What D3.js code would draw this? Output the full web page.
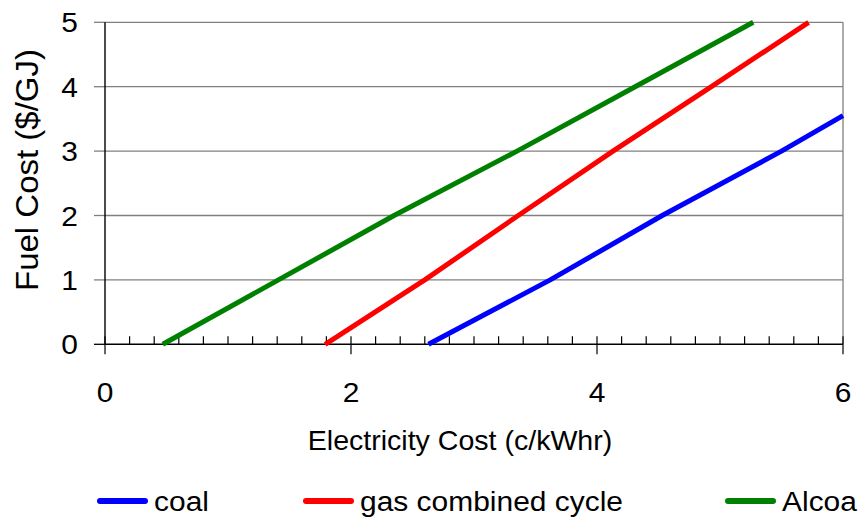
<!DOCTYPE html>
<html>
<head>
<meta charset="utf-8">
<script src="https://cdn.jsdelivr.net/npm/d3@7"></script>
<style>
  html, body { margin: 0; padding: 0; background: #fff; }
  svg text { font-family: "Liberation Sans", Arial, sans-serif; fill: #000; }
</style>
</head>
<body>
<svg id="chart" width="867" height="518"></svg>
<script>
// Electricity cost (c/kWhr) at which each fuel cost ($/GJ) breaks even
const coalElec   = [2.63, 3.62, 4.53, 5.50, 6.00];
const coalFuel   = [0,    1,    2,    3,    3.55];
const gasElec    = [1.79, 2.60, 3.36, 4.13, 4.93, 5.72];
const gasFuel    = [0,    1,    2,    3,    4,    5];
const alcoaElec  = [0.47, 1.41, 2.35, 3.35, 4.31, 5.27];
const alcoaFuel  = [0,    1,    2,    3,    4,    5];

const seriesNames = ["coal", "gas combined cycle", "Alcoa"];
const seriesColors = ["#0000FF", "#FF0000", "#008000"];

const xTickValues = [0, 2, 4, 6];
const yTickValues = [0, 1, 2, 3, 4, 5];
const xTitle = "Electricity Cost (c/kWhr)";
const yTitle = "Fuel Cost ($/GJ)";

const series = [
  { name: seriesNames[0], color: seriesColors[0], pts: d3.zip(coalElec, coalFuel) },
  { name: seriesNames[1], color: seriesColors[1], pts: d3.zip(gasElec, gasFuel) },
  { name: seriesNames[2], color: seriesColors[2], pts: d3.zip(alcoaElec, alcoaFuel) }
];

const svg = d3.select("#chart");
const plotLeft = 105, plotRight = 843, plotTop = 22.3, plotBottom = 344.3;
const x = d3.scaleLinear().domain([0, 6]).range([plotLeft, plotRight]);
const y = d3.scaleLinear().domain([0, 5]).range([plotBottom, plotTop]);
const stretch = 1.07;

// horizontal gridlines
svg.append("g").selectAll("line").data(yTickValues.filter(v => v > 0)).join("line")
  .attr("x1", plotLeft).attr("x2", plotRight)
  .attr("y1", d => y(d)).attr("y2", d => y(d))
  .attr("stroke", "#808080").attr("stroke-width", 1.3);

// right border of plot area
svg.append("line")
  .attr("x1", plotRight).attr("x2", plotRight).attr("y1", plotTop).attr("y2", plotBottom)
  .attr("stroke", "#808080").attr("stroke-width", 1.3);

// x axis: major ticks cross the axis, minor ticks point inward
const xAxis = svg.append("g");
xAxis.selectAll("line.minor").data(d3.range(0, 30).map(i => i * 0.2).filter((v, i) => i % 10 !== 0)).join("line")
  .attr("class", "minor")
  .attr("x1", d => x(d)).attr("x2", d => x(d))
  .attr("y1", plotBottom - 8).attr("y2", plotBottom)
  .attr("stroke", "#000").attr("stroke-width", 1.2);
xAxis.selectAll("line.major").data(xTickValues).join("line")
  .attr("class", "major")
  .attr("x1", d => x(d)).attr("x2", d => x(d))
  .attr("y1", plotBottom - 8).attr("y2", plotBottom + 10)
  .attr("stroke", "#000").attr("stroke-width", 1.2);
xAxis.append("line")
  .attr("x1", plotLeft).attr("x2", plotRight).attr("y1", plotBottom).attr("y2", plotBottom)
  .attr("stroke", "#000").attr("stroke-width", 1.4);
xAxis.selectAll("text").data(xTickValues).join("text")
  .attr("transform", d => `translate(${x(d)},402) scale(${stretch},1)`)
  .attr("text-anchor", "middle")
  .attr("font-size", 28)
  .text(d => d);

// y axis
const yAxis = svg.append("g");
yAxis.selectAll("line").data(yTickValues).join("line")
  .attr("x1", plotLeft - 11).attr("x2", plotLeft)
  .attr("y1", d => y(d)).attr("y2", d => y(d))
  .attr("stroke", d => d === 0 ? "#000" : "#808080").attr("stroke-width", 1.3);
yAxis.append("line")
  .attr("x1", plotLeft).attr("x2", plotLeft).attr("y1", plotTop).attr("y2", plotBottom)
  .attr("stroke", "#000").attr("stroke-width", 1.4);
yAxis.selectAll("text").data(yTickValues).join("text")
  .attr("transform", d => `translate(78,${y(d) + 10}) scale(${stretch},1)`)
  .attr("text-anchor", "end")
  .attr("font-size", 28)
  .text(d => d);

// axis titles
svg.append("text")
  .attr("transform", "translate(460,450) scale(1.02,1)")
  .attr("text-anchor", "middle")
  .attr("font-size", 28)
  .text(xTitle);
svg.append("text")
  .attr("transform", "translate(38,170) rotate(-90) scale(1,0.95)")
  .attr("text-anchor", "middle")
  .attr("font-size", 33)
  .text(yTitle);

// series lines
const line = d3.line().x(d => x(d[0])).y(d => y(d[1]));
svg.append("g").selectAll("path").data(series).join("path")
  .attr("d", d => line(d.pts))
  .attr("fill", "none")
  .attr("stroke", d => d.color)
  .attr("stroke-width", 5)
  .attr("stroke-linejoin", "round");

// legend
const legendX = [97, 303, 725];
const lg = svg.append("g").selectAll("g").data(series).join("g")
  .attr("transform", (d, i) => `translate(${legendX[i]},501)`);
lg.append("line")
  .attr("x1", 3).attr("x2", 48).attr("y1", 0).attr("y2", 0)
  .attr("stroke", d => d.color).attr("stroke-width", 6).attr("stroke-linecap", "round");
lg.append("text")
  .attr("transform", `translate(57,10) scale(${stretch},1)`)
  .attr("font-size", 28)
  .text(d => d.name);
</script>
</body>
</html>
